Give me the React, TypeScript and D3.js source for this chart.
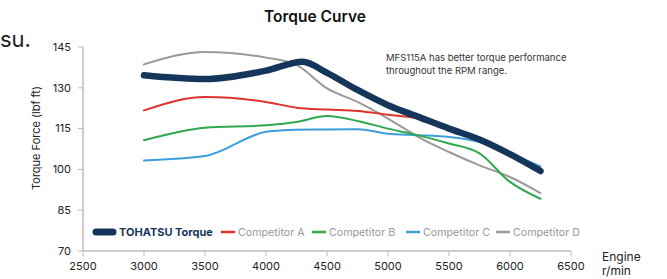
import React from "react";
import * as d3 from "d3";

const rpm = [3000, 3500, 4000, 4250, 4500, 4750, 5000, 5250, 5500, 5750, 6000, 6250];
const tohatsuRpm = [3000, 3500, 4000, 4300, 4500, 4750, 5000, 5250, 5500, 5750, 6000, 6250];
const tohatsu = [134.6, 133.2, 136.3, 139.6, 135.5, 129.2, 123.6, 119.3, 115, 111, 105.6, 99.4];
const compA = [121.7, 126.6, 124.8, 122.7, 122, 121.5, 120.1, 118.7, 115, 110.7, 105.8, 100.3];
const compB = [110.7, 115.3, 116.2, 117.4, 119.6, 117.8, 115, 112.5, 109.5, 105.9, 95.4, 89.2];
const compC = [103.3, 104.9, 113.8, 114.6, 114.7, 114.8, 113.1, 112.6, 111.9, 110.1, 105.8, 101.1];
const compD = [138.6, 143.2, 141.1, 138.4, 129.8, 124.8, 118.7, 111.9, 106.4, 101.5, 97.2, 91.3];

const xTicks = [2500, 3000, 3500, 4000, 4500, 5000, 5500, 6000, 6500];
const yTicks = [70, 85, 100, 115, 130, 145];

const series = [
  { name: "Competitor D", xs: rpm, values: compD, color: "#9a9a9a", width: 2 },
  { name: "Competitor C", xs: rpm, values: compC, color: "#3c9fdc", width: 2 },
  { name: "Competitor B", xs: rpm, values: compB, color: "#2fa84f", width: 2 },
  { name: "Competitor A", xs: rpm, values: compA, color: "#e0322b", width: 2 },
  { name: "TOHATSU Torque", xs: tohatsuRpm, values: tohatsu, color: "#15365a", width: 6.5 },
];

const legendItems = [
  { name: "TOHATSU Torque", color: "#15365a", x: 96, w: 17, width: 7, bold: true },
  { name: "Competitor A", color: "#e0322b", x: 221, w: 14, width: 2.5 },
  { name: "Competitor B", color: "#2fa84f", x: 312, w: 14, width: 2.5 },
  { name: "Competitor C", color: "#3c9fdc", x: 406, w: 14, width: 2.5 },
  { name: "Competitor D", color: "#9a9a9a", x: 496, w: 14, width: 2.5 },
];

const FONT = "Inter, 'Open Sans', sans-serif";

export default function App() {
  const width = 667;
  const height = 279;
  const x = d3.scaleLinear().domain([2500, 6500]).range([83, 571]);
  const y = d3.scaleLinear().domain([70, 145]).range([251, 47]);

  const makeLine = (xs: number[]) =>
    d3
      .line<number>()
      .x((_, i) => x(xs[i]))
      .y((d) => y(d))
      .curve(d3.curveMonotoneX);

  return (
    <svg
      width={width}
      height={height}
      style={{ position: "absolute", left: 0, top: 0, background: "#fff" }}
      fontFamily={FONT}
    >
      <text x={0} y={47} fontSize={22} fontWeight={400} fill="#222">
        su.
      </text>
      <text x={315} y={22} textAnchor="middle" fontSize={15.5} fontWeight={600} fill="#111">
        Torque Curve
      </text>

      {/* y axis */}
      <line x1={x(2500)} x2={x(2500)} y1={y(145)} y2={y(70)} stroke="#bbb" strokeWidth={1.5} />
      {yTicks.map((t) => (
        <g key={t}>
          <line x1={x(2500) - 5} x2={x(2500)} y1={y(t)} y2={y(t)} stroke="#bbb" />
          <text x={x(2500) - 12} y={y(t)} dy="0.35em" textAnchor="end" fontSize={11} fill="#222">
            {t}
          </text>
        </g>
      ))}
      <text
        transform={`translate(40,138) rotate(-90)`}
        textAnchor="middle"
        fontSize={11}
        fill="#222"
      >
        Torque Force (lbf ft)
      </text>

      {/* x axis */}
      <line x1={x(2500)} x2={x(6500)} y1={y(70)} y2={y(70)} stroke="#bbb" strokeWidth={1.5} />
      {xTicks.map((t) => (
        <g key={t}>
          <line x1={x(t)} x2={x(t)} y1={y(70)} y2={y(70) + 5} stroke="#bbb" />
          <text x={x(t)} y={y(70) + 19} textAnchor="middle" fontSize={11} fill="#222">
            {t}
          </text>
        </g>
      ))}
      <text x={602} y={261} fontSize={12} fill="#222">
        Engine
      </text>
      <text x={602} y={275} fontSize={12} fill="#222">
        r/min
      </text>

      {/* series */}
      {series.map((s) => (
        <path
          key={s.name}
          d={makeLine(s.xs)(s.values) || ""}
          fill="none"
          stroke={s.color}
          strokeWidth={s.width}
          strokeLinecap="round"
          strokeLinejoin="round"
        />
      ))}

      {/* annotation */}
      <text x={386} y={61} fontSize={9.5} fill="#333">
        MFS115A has better torque performance
      </text>
      <text x={386} y={74} fontSize={9.5} fill="#333">
        throughout the RPM range.
      </text>

      {/* legend */}
      {legendItems.map((l) => (
        <g key={l.name}>
          <line
            x1={l.x}
            x2={l.x + l.w}
            y1={232}
            y2={232}
            stroke={l.color}
            strokeWidth={l.width}
            strokeLinecap={l.bold ? "round" : "butt"}
          />
          <text
            x={l.x + l.w + (l.bold ? 6 : 3)}
            y={232}
            dy="0.35em"
            fontSize={l.bold ? 11 : 10.7}
            fontWeight={l.bold ? 700 : 400}
            fill={l.bold ? "#15365a" : "#999"}
          >
            {l.name}
          </text>
        </g>
      ))}
    </svg>
  );
}
